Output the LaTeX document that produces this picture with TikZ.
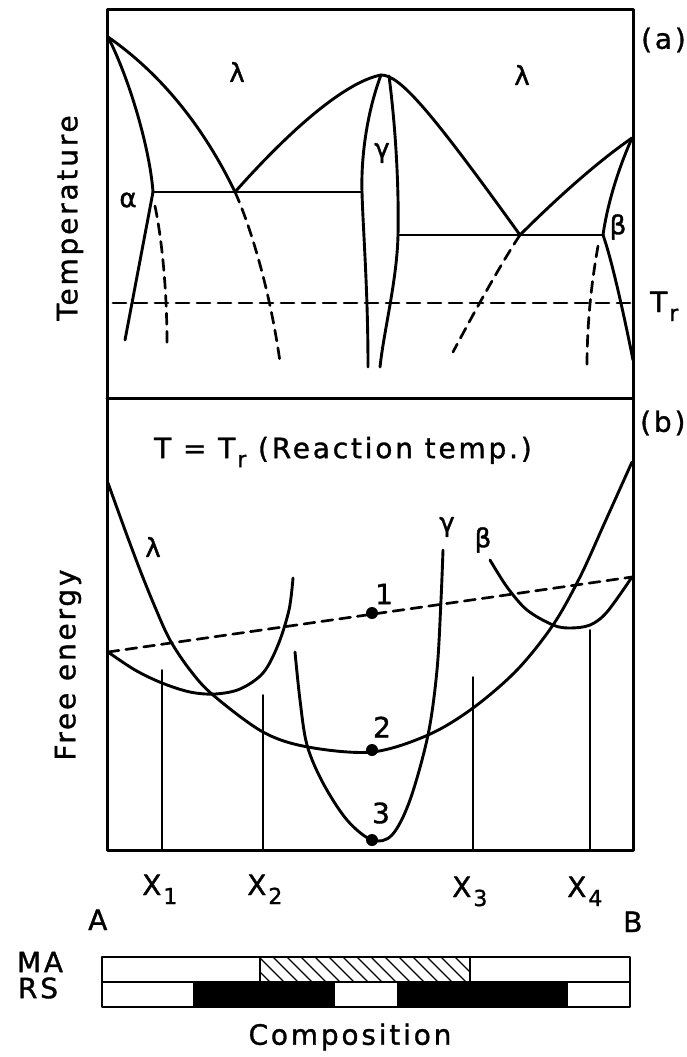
\documentclass[tikz,border=0pt]{standalone}
\usepackage{fontspec}
\setmainfont{DejaVu Sans}[LetterSpace=10,FakeBold=1.2]
\newfontfamily\grk{DejaVu Sans}[FakeBold=1.5]
\newcommand{\sbx}[1]{\hspace{2pt}\raisebox{-9pt}{\fontsize{22}{22}\selectfont #1}}
\begin{document}
\begin{tikzpicture}[x=1pt,y=-1pt,line cap=round,line join=round,
  frm/.style={line width=3pt},
  crv/.style={line width=2.9pt},
  dsh/.style={line width=2.7pt,dash pattern=on 11pt off 7pt},
  trl/.style={line width=2.7pt,dash pattern=on 13pt off 8pt},
  thn/.style={line width=1.6pt},
  lbl/.style={font=\fontsize{28}{30}\selectfont,inner sep=0pt},
  gk/.style={font=\grk\fontsize{26}{28}\selectfont,inner sep=0pt},
  dot/.style={circle,fill=black,inner sep=0pt,minimum size=12pt}]
\useasboundingbox (0,0) rectangle (686,1057);
% frame
\draw[frm] (107,10) rectangle (633,850);
\draw[frm] (107,398) -- (633,398);
% ---------- panel (a)
\draw[crv] (108,37) .. controls (170,80) and (210,140) .. (235,192);
\draw[dsh] (235,192) .. controls (250,225) and (270,290) .. (280,362);
\draw[crv] (108,37) .. controls (130,80) and (150,150) .. (153,192);
\draw[crv] (153,192) -- (125,340);
\draw[dsh] (155,206) .. controls (162,240) and (167,290) .. (167,345);
\draw[crv] (153,192) -- (362,192);
\draw[crv] (235,192) .. controls (290,130) and (345,82) .. (381,75);
\draw[crv] (381,75) .. controls (400,75) and (430,110) .. (520,235);
\draw[crv] (381,75) .. controls (366,115) and (361,160) .. (362,192) .. controls (363,230) and (368,290) .. (368,367);
\draw[crv] (389,76) .. controls (396,130) and (399,190) .. (398,235) .. controls (397,280) and (384,330) .. (380,367);
\draw[crv] (398,235) -- (603,235);
\draw[crv] (520,235) .. controls (560,195) and (600,160) .. (632,138);
\draw[crv] (632,138) .. controls (620,165) and (608,200) .. (603,235);
\draw[crv] (603,235) .. controls (612,260) and (625,320) .. (633,360);
\draw[dsh] (598,246) .. controls (592,280) and (587,320) .. (587,367);
\draw[dsh] (520,235) .. controls (500,265) and (470,320) .. (453,352);
\draw[trl] (113,303) -- (632,303);
\node[gk] (la1) at (237,72) {λ};
\node[gk] (la2) at (522,75) {λ};
\node[gk] (al) at (128,200) {α};
\node[gk] (ga) at (382,153) {γ};
\node[gk] (be) at (618,227) {β};
\node[lbl,anchor=base west] (tr) at (650,312) {T\sbx{r}};
\node[lbl,anchor=west] (pa) at (641,40) {(a)};
\node[lbl,rotate=90] (temp) at (70,218) {Temperature};
% ---------- panel (b)
\node[lbl] (tt) at (343,452) {T = T\sbx{r} (Reaction temp.)};
\node[lbl,anchor=west] (pb) at (640,423) {(b)};
\node[lbl,rotate=90] (fe) at (68,665) {Free energy};
\draw[crv] plot[smooth,tension=0.55] coordinates {(108,483) (125,530) (140,570) (155,607) (170,640) (190,670) (213,695) (263,732) (308,747) (372,752) (428,735) (473,708) (517,670) (553,625) (580,577) (605,522) (632,462)};
\draw[crv] plot[smooth,tension=0.55] coordinates {(108,652) (135,670) (162,683) (190,692) (215,694) (240,689) (263,673) (278,645) (289,610) (293,578)};
\draw[crv] plot[smooth,tension=0.55] coordinates {(295,652) (300,700) (307,745) (323,783) (347,820) (372,840) (392,835) (410,800) (428,735) (437,670) (441,600) (443,550)};
\draw[crv] plot[smooth,tension=0.55] coordinates {(490,560) (507,587) (527,610) (553,625) (570,628) (590,625) (607,612) (632,577)};
\draw[dsh] (108,652) -- (632,577);
\node[dot] (d1) at (372,613) {};
\node[dot] (d2) at (372,750) {};
\node[dot] (d3) at (372,840) {};
\node[lbl] (n1) at (384,594) {1};
\node[lbl] (n2) at (382,727) {2};
\node[lbl] (n3) at (381,813) {3};
\node[gk] (lb) at (153,547) {λ};
\node[gk] (gb) at (447,527) {γ};
\node[gk] (bb) at (483,540) {β};
\coordinate (x1t) at (162,670); \coordinate (x1b) at (162,850);
\coordinate (x2t) at (263,695); \coordinate (x2b) at (263,850);
\coordinate (x3t) at (473,677); \coordinate (x3b) at (473,850);
\coordinate (x4t) at (590,630); \coordinate (x4b) at (590,850);
\draw[thn] (x1t) -- (x1b);
\draw[thn] (x2t) -- (x2b);
\draw[thn] (x3t) -- (x3b);
\draw[thn] (x4t) -- (x4b);
% ---------- axis labels
\node[lbl,anchor=base west] (X1) at (142,895) {X\sbx{1}};
\node[lbl,anchor=base west] (X2) at (247,895) {X\sbx{2}};
\node[lbl,anchor=base west] (X3) at (452,897) {X\sbx{3}};
\node[lbl,anchor=base west] (X4) at (567,897) {X\sbx{4}};
\node[lbl,anchor=base west] (A) at (88,930) {A};
\node[lbl,anchor=base west] (B) at (623,932) {B};
% ---------- bar
\fill (193,982) rectangle (335,1007);
\fill (397,982) rectangle (568,1007);
\begin{scope}
\clip (260,957) rectangle (470,982);
\foreach \i in {0,...,17} {\draw[line width=1.3pt] ({245+\i*14},957) -- ({245+\i*14+25},982);}
\end{scope}
\draw[line width=2.2pt] (102,957) rectangle (630,1007);
\draw[line width=2.2pt] (102,982) -- (630,982);
\draw[line width=2.2pt] (260,957) -- (260,982);
\draw[line width=2.2pt] (470,957) -- (470,982);
\node[lbl] (ma) at (40,962) {MA};
\node[lbl] (rs) at (38,988) {RS};
\node[lbl] (comp) at (350,1037) {Composition};
\end{tikzpicture}
\end{document}
